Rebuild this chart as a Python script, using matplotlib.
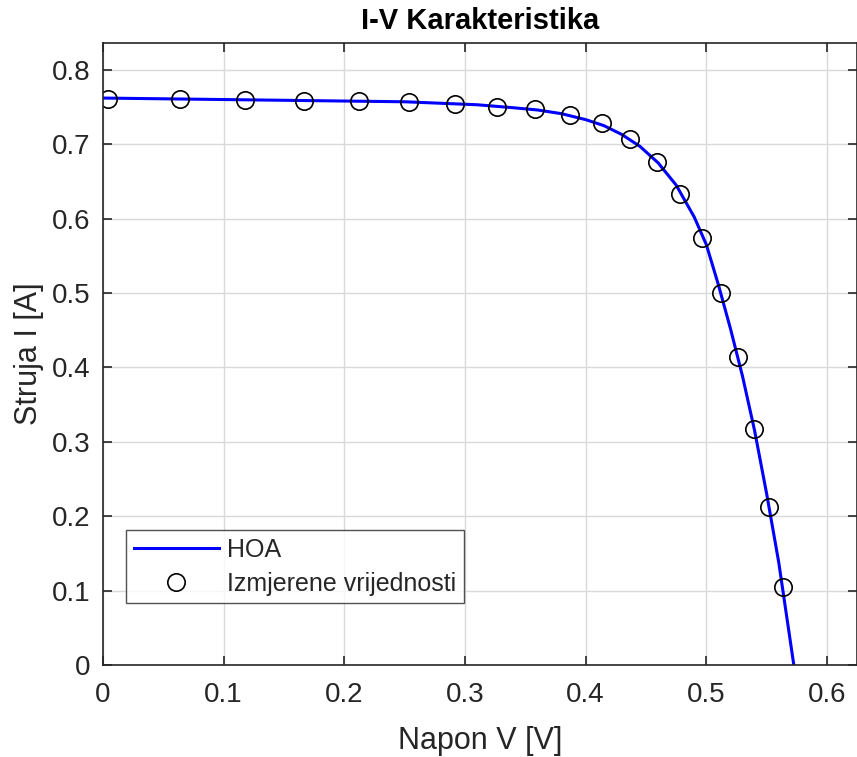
import matplotlib
matplotlib.use("Agg")
import matplotlib.pyplot as plt

# measured points
v_meas = [0.0041, 0.0638, 0.1176, 0.1665, 0.2121, 0.2535, 0.2916, 0.3264, 0.3579, 0.3869,
          0.4134, 0.4366, 0.4590, 0.4780, 0.4963, 0.5120, 0.5261, 0.5394, 0.5518, 0.5634]
i_meas = [0.761, 0.7606, 0.7596, 0.7583, 0.7583, 0.7569, 0.7542, 0.7502, 0.7475, 0.7394,
          0.7287, 0.7071, 0.6762, 0.6331, 0.5739, 0.5000, 0.4139, 0.3170, 0.2120, 0.1043]

# HOA model curve
v_hoa = [0.0, 0.05, 0.10, 0.15, 0.20, 0.25, 0.28, 0.31, 0.34, 0.36, 0.38, 0.40, 0.415,
         0.43, 0.445, 0.46, 0.475, 0.49, 0.50, 0.51, 0.52, 0.53, 0.54, 0.55, 0.56, 0.5725]
i_hoa = [0.762, 0.761, 0.760, 0.759, 0.758, 0.757, 0.755, 0.753, 0.749, 0.746, 0.741, 0.733, 0.725,
         0.713, 0.697, 0.675, 0.645, 0.602, 0.565, 0.511, 0.452, 0.388, 0.315, 0.230, 0.138, 0.0]

plt.rcParams['font.family'] = ['Liberation Sans', 'DejaVu Sans']

fig = plt.figure(figsize=(8.57, 7.57), dpi=100)
ax = fig.add_axes([0.1202, 0.1215, 0.88, 0.8217])

ax.plot(v_hoa, i_hoa, color="blue", linewidth=2.2, label="HOA")
ax.plot(v_meas, i_meas, "o", markersize=12.5, markerfacecolor="none",
        markeredgecolor="black", markeredgewidth=1.2, linestyle=" ",
        label="Izmjerene vrijednosti")

ax.set_xlim(0, 0.625)
ax.set_ylim(0, 0.836)
ax.set_xticks([0, 0.1, 0.2, 0.3, 0.4, 0.5, 0.6])
ax.set_xticklabels(["0", "0.1", "0.2", "0.3", "0.4", "0.5", "0.6"])
ax.set_yticks([0, 0.1, 0.2, 0.3, 0.4, 0.5, 0.6, 0.7, 0.8])
ax.set_yticklabels(["0", "0.1", "0.2", "0.3", "0.4", "0.5", "0.6", "0.7", "0.8"])
ax.tick_params(direction="in", top=True, right=True, length=6.5, width=1.2,
               color="#262626", labelcolor="#262626", labelsize=20)
ax.tick_params(axis="x", pad=12)
ax.tick_params(axis="y", pad=9)
for s in ax.spines.values():
    s.set_color("#262626")
    s.set_linewidth(1.2)
ax.grid(True, color="#d9d9d9", linewidth=1.0)
ax.set_axisbelow(True)

ax.set_title("I-V Karakteristika", fontsize=21, fontweight="bold", pad=10)
ax.set_xlabel("Napon V [V]", fontsize=22, color="#262626", labelpad=13)
ax.set_ylabel("Struja I [A]", fontsize=22, color="#262626", labelpad=5.5)

leg = ax.legend(loc="lower left", bbox_to_anchor=(0.0305, 0.0997), fontsize=18,
                frameon=True, fancybox=False, edgecolor="#262626", borderpad=0.3,
                handlelength=3.4, handletextpad=0.35, labelspacing=0.4,
                borderaxespad=0)
leg.get_frame().set_linewidth(1.0)
for t in leg.get_texts():
    t.set_color("#262626")

fig.savefig("out.png", dpi=100)
